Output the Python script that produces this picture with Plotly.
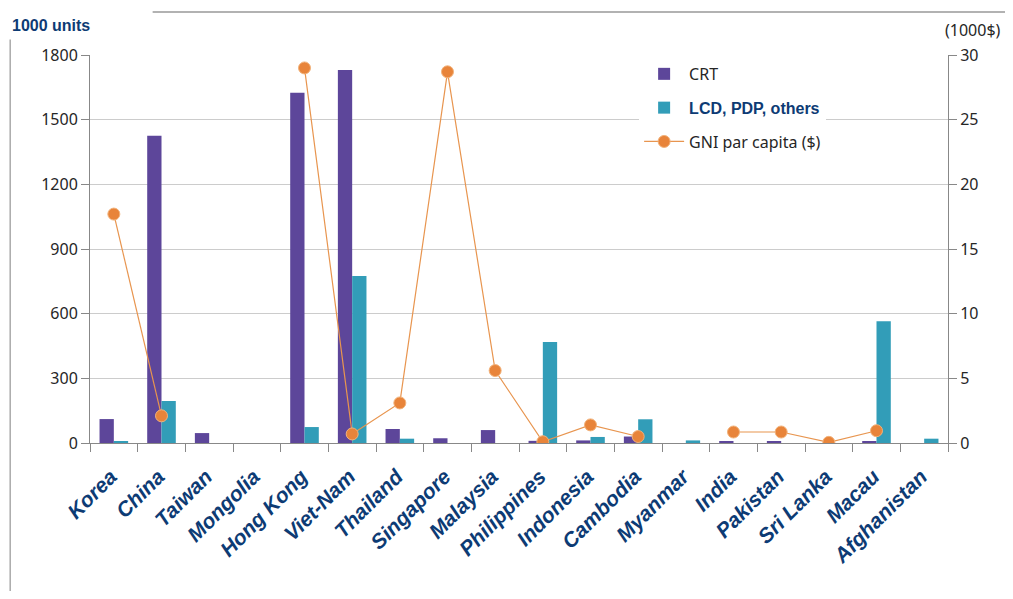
import plotly.graph_objects as go

countries = ["Korea", "China", "Taiwan", "Mongolia", "Hong Kong", "Viet-Nam", "Thailand",
             "Singapore", "Malaysia", "Philippines", "Indonesia", "Cambodia", "Myanmar",
             "India", "Pakistan", "Sri Lanka", "Macau", "Afghanistan"]
crt = [111, 1425, 46, 0, 1625, 1730, 65, 22, 60, 10, 12, 30, 0, 5, 5, 0, 5, 0]
lcd = [5, 195, 0, 0, 74, 775, 20, 0, 0, 468, 28, 110, 12, 0, 0, 0, 565, 20]
gni = [17.7, 2.1, None, None, 29.0, 0.7, 3.1, 28.7, 5.6, 0.1, 1.4, 0.5, None,
       0.85, 0.85, 0.05, 0.95, None]
left_ticks = [0, 300, 600, 900, 1200, 1500, 1800]
right_ticks = [0, 5, 10, 15, 20, 25, 30]

navy = "#0d3b74"
tickfont = dict(family="Noto Sans", size=16, color="#262626")

fig = go.Figure()
fig.add_trace(go.Bar(name="CRT", x=countries, y=crt, legendgroup="a",
                     marker=dict(color="#5d469a", line=dict(width=0))))
fig.add_trace(go.Bar(name="<span style='font-family:Arial;font-weight:bold;color:" + navy +
                     "'>LCD, PDP, others</span>", x=countries, y=lcd, legendgroup="b",
                     marker=dict(color="#329db8", line=dict(width=0))))
fig.add_trace(go.Scatter(name="GNI par capita ($)", x=countries, y=gni, yaxis="y2",
                         legendgroup="c",
                         mode="lines+markers", connectgaps=False,
                         line=dict(color="#e8954f", width=1.2),
                         marker=dict(color="#e8843a", size=12,
                                     line=dict(color="#f2b27a", width=1))))

fig.update_layout(
    width=997, height=583,
    margin=dict(l=82, r=57, t=47, b=148),
    paper_bgcolor="white", plot_bgcolor="white",
    barmode="group", bargap=0.4, bargroupgap=0,
    showlegend=True,
    legend=dict(x=0.64, y=0.995, xanchor="left", yanchor="top", traceorder="grouped",
                bgcolor="rgba(255,255,255,1)", font=dict(family="Noto Sans", size=16, color="#262626"),
                itemwidth=40, tracegroupgap=10),
    xaxis=dict(type="category", range=[-0.5, 17.5], tickson="boundaries", ticks="outside",
               ticklen=8, tickcolor="#888888", showline=True, linecolor="#888888", linewidth=1,
               tickangle=-45, ticklabelstandoff=12, ticklabelshift=-3,
               tickfont=dict(family="Arial", size=21, color=navy, weight="bold", style="italic"),
               showgrid=False),
    yaxis=dict(range=[0, 1800], tickvals=left_ticks, ticks="outside", ticklen=8,
               tickcolor="#888888", showline=True, linecolor="#888888", linewidth=1,
               showgrid=True, gridcolor="#cccccc", gridwidth=1, zeroline=False,
               tickfont=tickfont),
    yaxis2=dict(range=[0, 30], tickvals=right_ticks, overlaying="y", side="right",
                ticks="outside", ticklen=8, tickcolor="#888888", showline=True,
                linecolor="#888888", linewidth=1, showgrid=False, zeroline=False,
                tickfont=tickfont),
    annotations=[
        dict(text="<b>1000 units</b>", xref="paper", yref="paper", x=-0.093, y=1.077,
             xanchor="left", yanchor="middle", showarrow=False,
             font=dict(family="Arial", size=16, color=navy)),
        dict(text="(1000$)", xref="paper", yref="paper", x=1.064, y=1.064,
             xanchor="right", yanchor="middle", showarrow=False,
             font=dict(family="Noto Sans", size=16, color="#262626")),
    ],
    shapes=[
        dict(type="line", xref="paper", yref="paper", x0=0.073, x1=1.08, y0=1.111, y1=1.111,
             line=dict(color="#999999", width=1.5)),
        dict(type="line", xref="paper", yref="paper", x0=-0.093, x1=-0.093, y0=1.04, y1=-0.41,
             line=dict(color="#aaaaaa", width=1.5)),
    ],
)

fig.write_html("out.html")
